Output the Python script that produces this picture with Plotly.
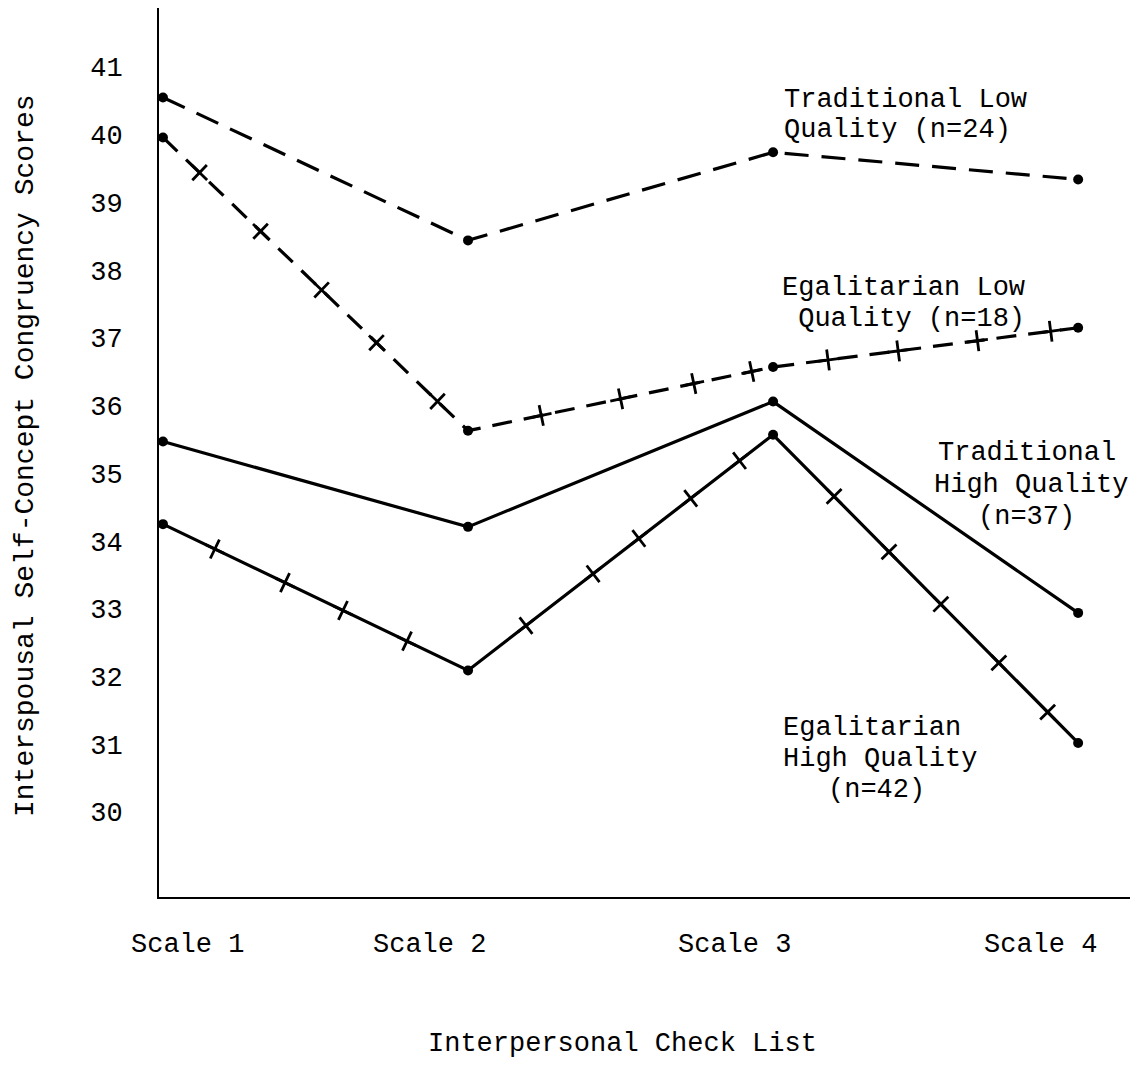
import math
import plotly.graph_objects as go

# ---------------- data ----------------
categories = ["Scale 1", "Scale 2", "Scale 3", "Scale 4"]
x_pos = [1, 2, 3, 4]
trad_low = [40.55, 38.44, 39.74, 39.34]
egal_low = [39.96, 35.63, 36.57, 37.15]
trad_high = [35.47, 34.21, 36.06, 32.94]
egal_high = [34.25, 32.09, 35.57, 31.02]
y_ticks = [30, 31, 32, 33, 34, 35, 36, 37, 38, 39, 40, 41]

# decorative cross-tick fractions along each segment of the egalitarian lines
egal_low_ticks = [[0.12, 0.32, 0.52, 0.70, 0.90], [0.24, 0.50, 0.74, 0.93], [0.18, 0.41, 0.67, 0.91]]
egal_high_ticks = [[0.17, 0.40, 0.59, 0.80], [0.19, 0.41, 0.56, 0.73, 0.89], [0.20, 0.38, 0.55, 0.74, 0.90]]

# ---------------- layout geometry ----------------
OFF = 8  # page body margin of the html page
W, H = 1140 - OFF, 1065 - OFF
ML, MR, MT, MB = 151, 10, 0, 168
PW, PH = W - ML - MR, H - MT - MB
X_RANGE = [0.987, 4.170]
Y_RANGE = [28.745, 41.871]
SX = PW / (X_RANGE[1] - X_RANGE[0])
SY = PH / (Y_RANGE[1] - Y_RANGE[0])

FONT = "Liberation Mono, Courier New, monospace"
FS = 27


def paper_x(px):
    return (px - OFF - ML) / PW


def paper_y(py):
    return (H - MB - (py - OFF)) / PH


def cross_ticks(xs, ys, fracs):
    tx, ty, ang = [], [], []
    for i, seg in enumerate(fracs):
        x0, x1, y0, y1 = xs[i], xs[i + 1], ys[i], ys[i + 1]
        theta = math.degrees(math.atan2(-(y1 - y0) * SY, (x1 - x0) * SX))
        for f in seg:
            tx.append(x0 + f * (x1 - x0))
            ty.append(y0 + f * (y1 - y0))
            ang.append(theta)
    return tx, ty, ang


fig = go.Figure()

series = [
    ("Traditional Low Quality (n=24)", trad_low, "24px,13px"),
    ("Egalitarian Low Quality (n=18)", egal_low, "20px,12px"),
    ("Traditional High Quality (n=37)", trad_high, "solid"),
    ("Egalitarian High Quality (n=42)", egal_high, "solid"),
]
for name, ys, dash in series:
    fig.add_trace(go.Scatter(
        x=x_pos, y=ys, name=name, mode="lines+markers",
        line=dict(color="black", width=3.2, dash=dash),
        marker=dict(color="black", size=10, symbol="circle"),
        showlegend=False,
    ))

for ys, fr in [(egal_low, egal_low_ticks), (egal_high, egal_high_ticks)]:
    tx, ty, ang = cross_ticks(x_pos, ys, fr)
    fig.add_trace(go.Scatter(
        x=tx, y=ty, mode="markers", showlegend=False, hoverinfo="skip",
        marker=dict(symbol="cross-thin", size=15, angle=ang,
                    line=dict(color="black", width=2.8)),
    ))

annotations = []
# scale labels (typed slightly offset from the data points in the original)
scale_label_px = [187, 429, 734, 1040]
for lab, px in zip(categories, scale_label_px):
    annotations.append(dict(text=lab, x=paper_x(px), y=paper_y(945), xref="paper", yref="paper",
                            showarrow=False, xanchor="center", yanchor="middle",
                            font=dict(family=FONT, size=FS, color="black")))

# x-axis title
annotations.append(dict(text="Interpersonal Check List", x=paper_x(622), y=paper_y(1044),
                        xref="paper", yref="paper", showarrow=False,
                        xanchor="center", yanchor="middle",
                        font=dict(family=FONT, size=FS, color="black")))
# y-axis title
annotations.append(dict(text="Interspousal Self-Concept Congruency Scores", x=paper_x(25), y=paper_y(456),
                        xref="paper", yref="paper", showarrow=False, textangle=-90,
                        xanchor="center", yanchor="middle",
                        font=dict(family=FONT, size=28, color="black")))

# series labels, one annotation per typed line
label_lines = [
    ("Traditional Low", 782, 100, "left"),
    ("Quality (n=24)", 782, 130, "left"),
    ("Egalitarian Low", 780, 288, "left"),
    (" Quality (n=18)", 780, 319, "left"),
    ("Traditional", 1027, 453, "center"),
    ("High Quality", 1031, 485, "center"),
    ("(n=37)", 1026, 517, "center"),
    ("Egalitarian", 872, 728, "center"),
    ("High Quality", 880, 759, "center"),
    ("(n=42)", 876, 790, "center"),
]
for txt, px, py, anc in label_lines:
    annotations.append(dict(text=txt.replace(" ", "&nbsp;") if txt.startswith(" ") else txt,
                            x=paper_x(px), y=paper_y(py), xref="paper", yref="paper",
                            showarrow=False, xanchor=anc, yanchor="middle",
                            font=dict(family=FONT, size=FS, color="black")))

fig.update_layout(
    width=W, height=H,
    margin=dict(l=ML, r=MR, t=MT, b=MB, pad=0),
    paper_bgcolor="white", plot_bgcolor="white",
    showlegend=False,
    annotations=annotations,
    xaxis=dict(range=X_RANGE, showline=True, linecolor="black", linewidth=2,
               showgrid=False, zeroline=False, showticklabels=False, ticks=""),
    yaxis=dict(range=Y_RANGE, showline=True, linecolor="black", linewidth=2,
               showgrid=False, zeroline=False, tickmode="array", tickvals=y_ticks,
               ticktext=[str(v) for v in y_ticks], ticks="", ticklabelstandoff=29,
               tickfont=dict(family=FONT, size=FS, color="black")),
)

fig.write_html("out.html")
